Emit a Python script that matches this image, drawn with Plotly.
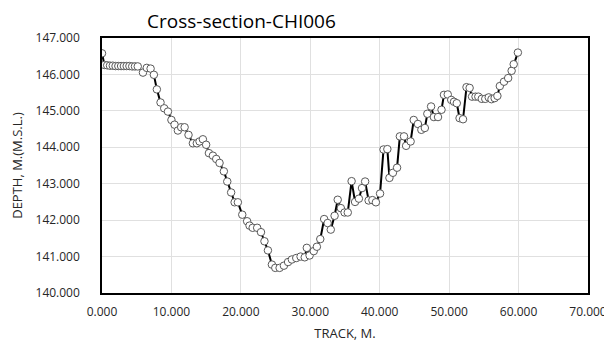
import plotly.graph_objects as go

track = [0.0, 0.35, 0.75, 1.15, 1.55, 1.95, 2.35, 2.75, 3.15, 3.55, 3.95, 4.35, 4.75, 5.15,
         5.9, 6.45, 7.0, 7.47, 7.9, 8.43, 8.96, 9.5, 10.0, 10.45, 10.93, 11.4, 11.9, 12.46,
         13.09, 13.66, 14.05, 14.53, 15.0, 15.4, 15.97, 16.45, 16.93, 17.55, 18.04, 18.6,
         19.1, 19.57, 20.2, 20.9, 21.25, 21.7, 22.35, 22.9, 23.4, 23.9, 24.47, 24.96, 25.58,
         26.2, 26.8, 27.35, 27.98, 28.6, 29.2, 29.5, 29.9, 30.5, 30.95, 31.44, 32.0, 32.5,
         32.95, 33.5, 33.95, 34.4, 34.94, 35.4, 35.95, 36.45, 37.0, 37.45, 37.9, 38.4, 38.95,
         39.45, 40.05, 40.55, 41.1, 41.4, 41.9, 42.5, 42.9, 43.5, 43.8, 44.45, 44.9, 45.5,
         46.0, 46.5, 46.86, 47.4, 47.8, 48.4, 48.9, 49.25, 49.8, 50.3, 50.7, 51.1, 51.5, 52.0,
         52.5, 52.95, 53.3, 53.8, 54.2, 54.7, 55.2, 55.7, 56.1, 56.55, 56.95, 57.3, 57.9,
         58.5, 59.0, 59.3, 59.9]
depth = [146.58, 146.26, 146.25, 146.24, 146.24, 146.23, 146.23, 146.23, 146.23, 146.23,
         146.23, 146.22, 146.22, 146.22,
         146.05, 146.18, 146.16, 145.99, 145.59, 145.23, 145.07, 144.98, 144.75, 144.62,
         144.46, 144.55, 144.55, 144.34, 144.11, 144.11, 144.16, 144.22, 144.07, 143.84,
         143.77, 143.68, 143.57, 143.34, 143.06, 142.76, 142.49, 142.49, 142.15, 141.97,
         141.85, 141.79, 141.79, 141.67, 141.42, 141.17, 140.78, 140.69, 140.69, 140.75,
         140.85, 140.92, 140.96, 141.0, 140.98, 141.24, 141.03, 141.15, 141.27, 141.48,
         142.03, 141.92, 141.74, 142.12, 142.56, 142.33, 142.21, 142.21, 143.07, 142.5,
         142.59, 142.88, 143.06, 142.54, 142.55, 142.49, 142.73, 143.94, 143.95, 143.16,
         143.3, 143.44, 144.3, 144.3, 144.04, 144.16, 144.75, 144.64, 144.48, 144.53,
         144.92, 145.12, 144.83, 144.83, 145.03, 145.44, 145.45, 145.3, 145.25, 145.21,
         144.8, 144.77, 145.65, 145.63, 145.39, 145.39, 145.39, 145.33, 145.33, 145.37,
         145.32, 145.35, 145.41, 145.68, 145.8, 145.9, 146.1, 146.28, 146.6]

x_ticks = [0, 10, 20, 30, 40, 50, 60, 70]
y_ticks = [140, 141, 142, 143, 144, 145, 146, 147]

FONT = "Open Sans"
TXT = "#262626"

fig = go.Figure(go.Scatter(
    x=track, y=depth, mode="lines+markers",
    line=dict(color="black", width=2),
    marker=dict(symbol="circle", size=7.5, color="white",
                line=dict(color="#595959", width=1)),
    showlegend=False,
))

# page body has an 8px margin, so the figure is sized 8px smaller
W, H = 604, 335
fig.update_layout(
    width=W, height=H,
    margin=dict(l=94, r=24, t=30, b=50, autoexpand=False),
    paper_bgcolor="white", plot_bgcolor="white",
    title=dict(text="Cross-section-CHI006", x=139 / W, xanchor="left", xref="container",
               y=1 - 13 / H, yanchor="middle", yref="container",
               font=dict(family=FONT, size=19, color="black")),
    font=dict(family=FONT, size=11, color=TXT),
)

fig.update_xaxes(
    range=[0, 70], tickvals=x_ticks, tickformat=".3f", automargin=False,
    showgrid=True, gridcolor="#e0e0e0", gridwidth=1,
    showline=True, linecolor="black", linewidth=1.5, mirror=True,
    zeroline=False, ticks="", ticklabelstandoff=7,
    tickfont=dict(family=FONT, size=12, color=TXT),
    title=dict(text="TRACK, M.", font=dict(family=FONT, size=13, color=TXT), standoff=10),
)
fig.update_yaxes(
    range=[140, 147], tickvals=y_ticks, tickformat=".3f", automargin=False,
    showgrid=True, gridcolor="#e0e0e0", gridwidth=1,
    showline=True, linecolor="black", linewidth=1.5, mirror=True,
    zeroline=False, ticks="", ticklabelstandoff=18,
    tickfont=dict(family=FONT, size=12, color=TXT),
    title=dict(text="DEPTH, M.(M.S.L.)", font=dict(family=FONT, size=13, color=TXT), standoff=22),
)

fig.write_html("out.html")
